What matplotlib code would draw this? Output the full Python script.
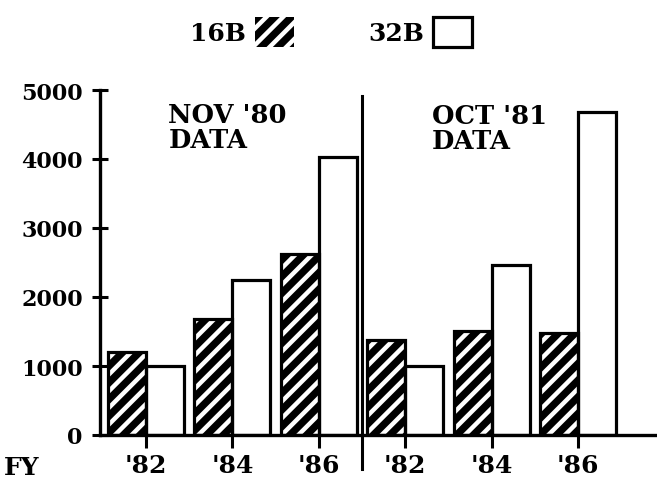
import matplotlib
matplotlib.use('Agg')
from matplotlib import pyplot as plt
from matplotlib.patches import Patch
import numpy as np

# FY '82, '84, '86 for NOV '80 data, then the same for OCT '81 data
years = ["'82", "'84", "'86", "'82", "'84", "'86"]
b16 = [1200, 1680, 2620, 1380, 1510, 1480]
b32 = [1000, 2250, 4030, 1000, 2460, 4680]
yticks = [0, 1000, 2000, 3000, 4000, 5000]
ylabels = ['0', '1000', '2000', '3000', '4000', '5000']

plt.rcParams['font.family'] = 'DejaVu Serif'
plt.rcParams['font.weight'] = 'bold'
plt.rcParams['hatch.color'] = 'white'
plt.rcParams['hatch.linewidth'] = 3.2

fig = plt.figure(figsize=(6.57, 4.85), dpi=100)
ax = fig.add_axes([100/657, 49/485, 557/657, 345/485])

x = np.arange(len(years))
w = 0.44
lw = 2.3

# 16B: black with white stripes, then outline
ax.bar(x - w/2, b16, w, color='black', hatch='//', linewidth=0, zorder=2)
ax.bar(x - w/2, b16, w, fill=False, edgecolor='black', linewidth=lw, zorder=3)
# 32B: white boxes
ax.bar(x + w/2, b32, w, color='white', edgecolor='black', linewidth=lw, zorder=2)

# divider between the two data sets
ax.plot([2.5, 2.5], [-490, 4910], color='black', linewidth=2.2, clip_on=False)

ax.text(0.26, 4830, "NOV '80\nDATA", fontsize=18.5, va='top', ha='left', linespacing=1.0)
ax.text(3.31, 4810, "OCT '81\nDATA", fontsize=18.5, va='top', ha='left', linespacing=1.0)
ax.text(-1.64, -460, 'FY', fontsize=18, va='center', ha='left', clip_on=False)

ax.set_xlim(-0.53, 5.91)
ax.set_ylim(0, 5000)
ax.set_xticks(x)
ax.set_xticklabels(years, fontsize=18)
ax.set_yticks(yticks)
ax.set_yticklabels(ylabels, fontsize=16)
ax.tick_params(axis='x', direction='out', length=9, width=2.2, pad=4)
ax.tick_params(axis='y', direction='inout', length=11, width=2.2, pad=7)

for s in ['top', 'right']:
    ax.spines[s].set_visible(False)
for s in ['left', 'bottom']:
    ax.spines[s].set_linewidth(2.4)

handles = [Patch(facecolor='black', hatch='//', label='16B'),
           Patch(facecolor='white', edgecolor='black', linewidth=lw, label='32B')]
fig.legend(handles=handles, loc='center', bbox_to_anchor=(331/657, 1 - 33/485),
           ncol=2, frameon=False, markerfirst=False, fontsize=18,
           handlelength=1.55, handleheight=1.45, handletextpad=0.35, columnspacing=3.0)

fig.savefig('out.png', dpi=100)
